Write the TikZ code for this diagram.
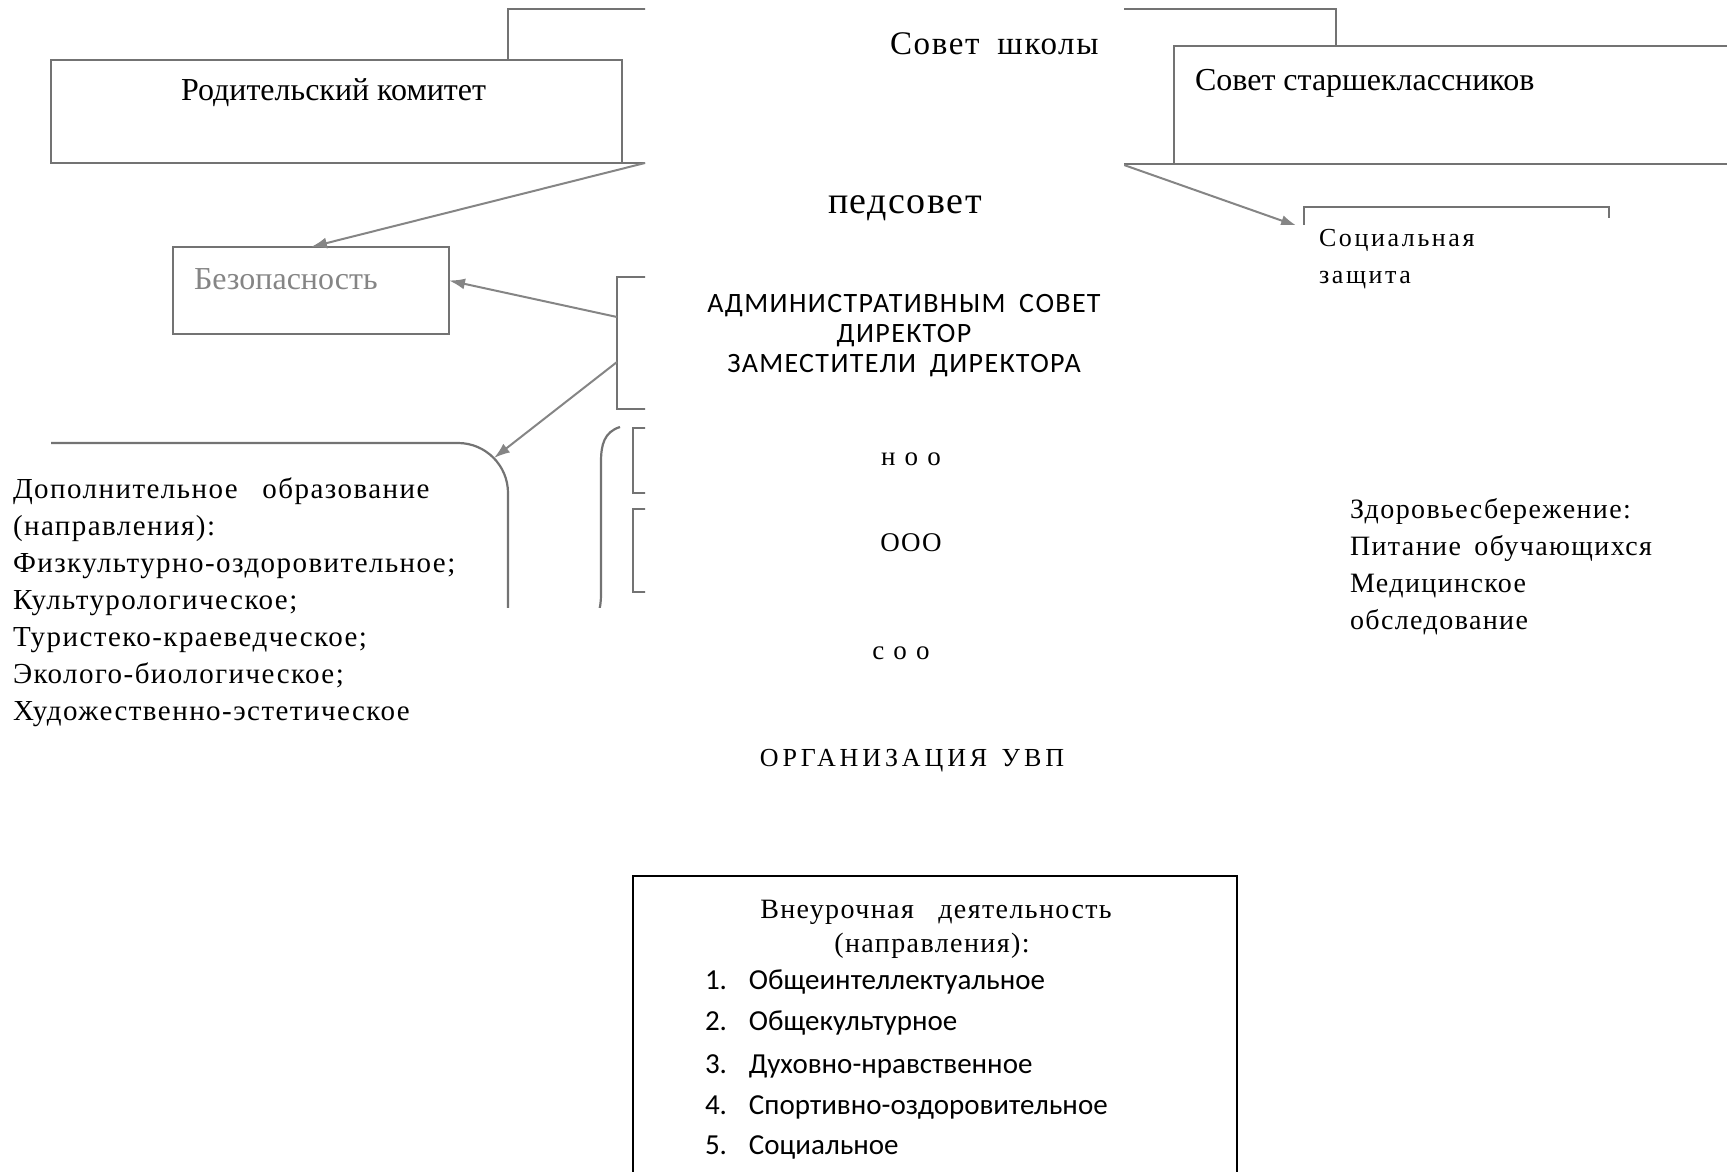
\documentclass[tikz,border=0pt]{standalone}
\usepackage{fontspec}
\setmainfont{Liberation Serif}
\newfontfamily\calib{Carlito}
\newfontfamily\calibsp[LetterSpace=5]{Carlito}
\newfontfamily\tsp[LetterSpace=5]{Liberation Serif}
\newfontfamily\tspz[LetterSpace=5]{Liberation Serif}
\newfontfamily\tspc[LetterSpace=10]{Liberation Serif}
\newfontfamily\tspp[LetterSpace=4]{Liberation Serif}
\newfontfamily\tspb[LetterSpace=9]{Liberation Serif}
\newfontfamily\twide[LetterSpace=15]{Liberation Serif}
\usetikzlibrary{arrows.meta,calc}
\definecolor{scan}{HTML}{737373}
\definecolor{scanarr}{HTML}{858585}
\definecolor{scantxt}{HTML}{858585}
\newcommand{\myfs}[2]{\fontsize{#1}{#2}\selectfont}
\begin{document}
\begin{tikzpicture}[x=1pt,y=-1pt,
  scanline/.style={draw=scan,line width=2.2pt},
  scanbox/.style={scanline,rectangle,anchor=north west,inner sep=0pt,outer sep=0pt},
  scanarrow/.style={draw=scanarr,fill=scanarr,line width=2pt,-{Latex[length=16pt,width=11pt]}},
  txt/.style={anchor=base west,inner sep=0pt,outer sep=0pt},
  ctxt/.style={anchor=base,inner sep=0pt,outer sep=0pt},
  body/.style={font=\myfs{29}{37}\tsp},
  zbody/.style={font=\myfs{28}{37}\tspz},
  listtxt/.style={txt,font=\myfs{29}{37}\calib}]
\useasboundingbox (0,0) rectangle (1727,1172);

% ---------- left scanned fragment ----------
\begin{scope}
\clip (0,0) rectangle (645,607);
\node[scanbox,minimum width=571pt,minimum height=103pt] (rod) at (51,60) {};
\coordinate (rodcut) at (660,163);
\coordinate (topcut) at (660,9);
\coordinate (topcorner) at (508,9);
\coordinate (rodtop) at (508,60);
\draw[scanline] (rod.south east) -- (rodcut);
\draw[scanline] (topcut) -- (topcorner) -- (rodtop);
\node[scanbox,minimum width=276pt,minimum height=87pt] (bez) at (173,247) {};
\node[scanbox,minimum width=80pt,minimum height=132pt] (adm) at (617,277) {};
\coordinate (arrA) at (645,163);
\draw[scanarrow] (arrA) -- (bez.north);
\draw[scanarrow] ($(adm.north west)+(0,40)$) -- ($(bez.east)+(0,-10)$);
\coordinate (dopL) at (51,443);
\coordinate (dopC) at (508,443);
\coordinate (dopB) at (508,660);
\draw[scanline,rounded corners=50pt] (dopL) -- (dopC) -- (dopB);
\coordinate (dopcorner) at (494,458);
\draw[scanarrow] ($(adm.north west)+(0,85)$) -- (dopcorner);
\draw[scanline] (620,427) .. controls (604,432) and (601,445) .. (601,462) -- (601,595) .. controls (601,602) and (600,607) .. (599,612);
\draw[scanline] (650,428) -- (633,428) -- (633,493) -- (650,493);
\draw[scanline] (650,509) -- (633,509) -- (633,592) -- (650,592);
\end{scope}
\node[txt,font=\myfs{32}{32}] (rodt) at (181,100) {Родительский комитет};
\node[txt,font=\myfs{32}{32},text=scantxt] (bezt) at (194,289) {Безопасность};

% ---------- right scanned fragment ----------
\begin{scope}
\clip (1124,0) rectangle (1727,224);
\coordinate (rtopcut) at (1110,9);
\coordinate (rtopcorner) at (1336,9);
\coordinate (rtopdown) at (1336,46);
\draw[scanline] (rtopcut) -- (rtopcorner) -- (rtopdown);
\node[scanbox,minimum width=580pt,minimum height=118pt] (sst) at (1174,46) {};
\coordinate (sstcut) at (1110,164);
\draw[scanline] (sstcut) -- (sst.south west);
\coordinate (socL) at (1304,240);
\coordinate (socTL) at (1304,207);
\coordinate (socTR) at (1609,207);
\coordinate (socR) at (1609,218);
\draw[scanline] (socL) -- (socTL) -- (socTR) -- (socR);
\coordinate (sarrA) at (1124,165);
\coordinate (sarrB) at (1297,226);
\draw[scanarrow] (sarrA) -- (sarrB);
\end{scope}
\node[txt,font=\myfs{32}{32}] (sstt) at (1195,90) {Совет старшеклассников};
\node[txt,font=\myfs{26}{37}\tspc] (soc1) at (1319,246) {Социальная};
\node[txt,font=\myfs{26}{37}\tspc] (soc2) at (1319,283) {защита};

% ---------- central column ----------
\node[txt,font=\myfs{33}{33}\tsp] (sovsh) at (890,55) {Совет\hspace{8pt} школы};
\node[txt,font=\myfs{38}{38}\tspp] (ped) at (828,213) {педсовет};
\node[ctxt,font=\myfs{28}{30}\calibsp] (adm1) at (904,312) {АДМИНИСТРАТИВНЫМ\hspace{6pt} СОВЕТ};
\node[ctxt,font=\myfs{28}{30}\calibsp] (adm2) at (904,342) {ДИРЕКТОР};
\node[ctxt,font=\myfs{28}{30}\calibsp] (adm3) at (904,372) {ЗАМЕСТИТЕЛИ\hspace{6pt} ДИРЕКТОРА};
\node[ctxt,font=\myfs{27}{30}\tspb] (noo) at (911,465) {н о о};
\node[ctxt,font=\myfs{27}{30}\tspz] (ooo) at (911,551) {ООО};
\node[ctxt,font=\myfs{27}{30}\tspb] (soo) at (901,659) {с о о};
\node[ctxt,font=\myfs{26}{30}\twide] (org) at (912,766) {ОРГАНИЗАЦИЯ\hspace{4pt} УВП};

% ---------- left text ----------
\node[txt,body] (d1) at (13,498) {Дополнительное\hspace{16pt} образование};
\node[txt,body] (d2) at (13,535) {(направления):};
\node[txt,body] (d3) at (13,572) {Физкультурно-оздоровительное;};
\node[txt,body] (d4) at (13,609) {Культурологическое;};
\node[txt,body] (d5) at (13,646) {Туристеко-краеведческое;};
\node[txt,body] (d6) at (13,683) {Эколого-биологическое;};
\node[txt,body] (d7) at (13,720) {Художественно-эстетическое};

% ---------- right text ----------
\node[txt,zbody] (z1) at (1350,518) {Здоровьесбережение:};
\node[txt,zbody] (z2) at (1350,555) {Питание\hspace{5pt} обучающихся};
\node[txt,zbody] (z3) at (1350,592) {Медицинское};
\node[txt,zbody] (z4) at (1350,629) {обследование};

% ---------- bottom box ----------
\node[anchor=north west,minimum width=604pt,minimum height=296pt,inner sep=0pt,outer sep=0pt] (vn) at (633,876) {};
\draw[line width=1.8pt] (vn.south west) -- (vn.north west) -- (vn.north east) -- (vn.south east);
\node[ctxt,font=\myfs{28}{37}\tsp] (vn1) at (936,918) {Внеурочная\hspace{16pt} деятельность};
\node[ctxt,font=\myfs{28}{37}\tsp] (vn2) at (932,952) {(направления):};
\node[listtxt] (l1) at (705,989) {\makebox[44pt][l]{1.}Общеинтеллектуальное};
\node[listtxt] (l2) at (705,1030) {\makebox[44pt][l]{2.}Общекультурное};
\node[listtxt] (l3) at (705,1073) {\makebox[44pt][l]{3.}Духовно-нравственное};
\node[listtxt] (l4) at (705,1114) {\makebox[44pt][l]{4.}Спортивно-оздоровительное};
\node[listtxt] (l5) at (705,1154) {\makebox[44pt][l]{5.}Социальное};
\end{tikzpicture}
\end{document}
